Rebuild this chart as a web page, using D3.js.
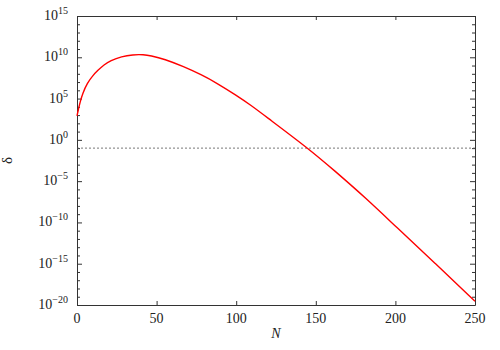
<!DOCTYPE html>
<html>
<head>
<meta charset="utf-8">
<script src="https://cdn.jsdelivr.net/npm/d3@7"></script>
<style>
  body { margin: 0; background: #fff; }
  svg { font-family: "Liberation Serif", "Times New Roman", Times, serif; }
</style>
</head>
<body>
<svg id="chart" width="500" height="350"></svg>
<script>
// values
const nValues = [0, 1, 2, 3.5, 6.5, 10, 13, 17, 21, 28, 35, 42, 46, 55, 67, 78, 88, 100, 109, 120, 145, 161, 182, 200, 225, 250];
const deltaValues = [8e2, 6.3e3, 4e4, 4e5, 7.9e6, 6.3e7, 2.5e8, 1.26e9, 4e9, 1.26e10, 2.1e10, 2.1e10, 1.6e10, 6e9, 7.4e8, 7.9e7, 7.2e6, 2.5e5, 1.7e4, 4.2e2, 1e-1, 2.5e-4, 7.1e-8, 3.5e-11, 1.1e-15, 2.8e-20];
const threshold = 1e-1;
const xTicks = [0, 50, 100, 150, 200, 250];
const yExponents = [15, 10, 5, 0, -5, -10, -15, -20];

var svg = d3.select("#chart"),
    margin = {top: 16, right: 25, bottom: 45, left: 77},
    width = svg.attr("width") - margin.left - margin.right,
    height = svg.attr("height") - margin.top - margin.bottom;

var x = d3.scaleLinear().domain([0, 250]).range([0, width]);
var y = d3.scaleLog().domain([1e-20, 1e15]).range([height, 0]);

var g = svg.append("g")
    .attr("transform", "translate(" + margin.left + "," + margin.top + ")");

var majorY = yExponents.map(e => Math.pow(10, e));
var minorY = d3.range(-20, 16).filter(e => e % 5 !== 0).map(e => Math.pow(10, e));

function styleAxis(sel) {
  sel.select(".domain").attr("stroke", "#333");
  sel.selectAll(".tick line").attr("stroke", "#333");
  sel.selectAll(".tick text").remove();
}

// bottom / top
g.append("g")
    .attr("transform", "translate(0," + height + ")")
    .call(d3.axisBottom(x).tickValues(xTicks).tickSize(-4).tickSizeOuter(0))
    .call(styleAxis);
g.append("g")
    .call(d3.axisTop(x).tickValues(xTicks).tickSize(-4).tickSizeOuter(0))
    .call(styleAxis);

// left / right major + minor
g.append("g")
    .call(d3.axisLeft(y).tickValues(majorY).tickSize(-5).tickSizeOuter(0))
    .call(styleAxis);
g.append("g")
    .call(d3.axisLeft(y).tickValues(minorY).tickSize(-3).tickSizeOuter(0))
    .call(styleAxis)
    .select(".domain").remove();
g.append("g")
    .attr("transform", "translate(" + width + ",0)")
    .call(d3.axisRight(y).tickValues(majorY).tickSize(-5).tickSizeOuter(0))
    .call(styleAxis);
g.append("g")
    .attr("transform", "translate(" + width + ",0)")
    .call(d3.axisRight(y).tickValues(minorY).tickSize(-3).tickSizeOuter(0))
    .call(styleAxis)
    .select(".domain").remove();

// x tick labels
g.selectAll(".xlab").data(xTicks).enter().append("text")
    .attr("class", "xlab")
    .attr("x", d => x(d))
    .attr("y", height + 18)
    .attr("text-anchor", "middle")
    .attr("font-size", 14)
    .attr("fill", "#222")
    .text(d => d);

// y tick labels 10^e
var ylab = g.selectAll(".ylab").data(yExponents).enter().append("text")
    .attr("class", "ylab")
    .attr("x", -9)
    .attr("y", d => y(Math.pow(10, d)) + 4)
    .attr("text-anchor", "end")
    .attr("font-size", 14)
    .attr("fill", "#222");
ylab.append("tspan").text("10");
ylab.append("tspan")
    .attr("font-size", 10)
    .attr("dy", -6)
    .text(d => d < 0 ? "\u2212" + (-d) : d);

// threshold line
g.append("line")
    .attr("x1", 0).attr("x2", width)
    .attr("y1", y(threshold)).attr("y2", y(threshold))
    .attr("stroke", "#555")
    .attr("stroke-width", 0.8)
    .attr("stroke-dasharray", "2,2");

// curve
var pts = nValues.map((n, i) => [n, deltaValues[i]]);
var line = d3.line()
    .x(d => x(d[0]))
    .y(d => y(d[1]))
    .curve(d3.curveBasis);

g.append("path")
    .datum(pts)
    .attr("fill", "none")
    .attr("stroke", "#ff0000")
    .attr("stroke-width", 1.4)
    .attr("d", line);

// axis titles
svg.append("text")
    .attr("x", margin.left + width / 2)
    .attr("y", 338)
    .attr("text-anchor", "middle")
    .attr("font-size", 14)
    .attr("font-style", "italic")
    .attr("fill", "#222")
    .text("N");

svg.append("text")
    .attr("transform", "translate(12," + (margin.top + height / 2) + ") rotate(-90)")
    .attr("text-anchor", "middle")
    .attr("font-size", 15)
    .attr("fill", "#222")
    .text("δ");
</script>
</body>
</html>
